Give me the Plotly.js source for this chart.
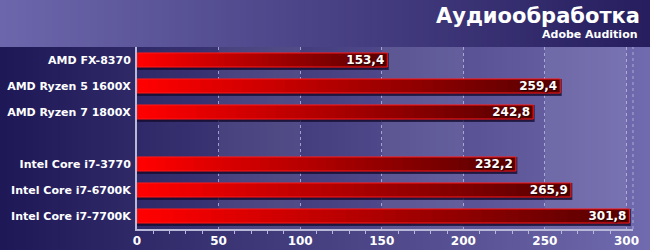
<!DOCTYPE html>
<html>
<head>
<meta charset="utf-8">
<script src="https://cdn.plot.ly/plotly-3.0.1.min.js"></script>
<style>html,body{margin:0;padding:0;background:#201a58;}#chart{width:650px;height:250px;}</style>
</head>
<body>
<div id="chart"></div>
<script>
// ---- data ----
const cpus = ["AMD FX-8370", "AMD Ryzen 5 1600X", "AMD Ryzen 7 1800X",
              "Intel Core i7-3770", "Intel Core i7-6700K", "Intel Core i7-7700K"];
const scores = [153.4, 259.4, 242.8, 232.2, 265.9, 301.8];
const groupBreakAfter = 3; // an empty slot between AMD and Intel groups
const chartTitle = "Аудиообработка";
const chartSubtitle = "Adobe Audition";
const tickStep = 50;
const axisMax = 304;

// ---- layout constants (styles) ----
const W = 650, H = 250;
const M = {l: 137, r: 17, t: 47, b: 21};
const plotW = W - M.l - M.r, plotH = H - M.t - M.b;
const FONT = "DejaVu Sans, Verdana, sans-serif";
const barW = 0.54;

const spacer = " ";
const slots = cpus.slice(0, groupBreakAfter).concat([spacer], cpus.slice(groupBreakAfter));

function px2x(px){ return (px - M.l) / plotW; }
function px2y(py){ return (H - M.b - py) / plotH; }
function mix(c1, c2, t){
  const r = Math.round(c1[0] + (c2[0]-c1[0])*t);
  const g = Math.round(c1[1] + (c2[1]-c1[1])*t);
  const b = Math.round(c1[2] + (c2[2]-c1[2])*t);
  return `rgb(${r},${g},${b})`;
}

const shapes = [];
// background gradient (whole figure)
const NS = 100;
for (let i = 0; i < NS; i++) {
  const x0 = W*i/NS, x1 = W*(i+1)/NS + 0.6;
  shapes.push({type:'rect', xref:'paper', yref:'paper', x0:px2x(x0), x1:px2x(x1),
    y0:px2y(H), y1:px2y(0), line:{width:0}, fillcolor: mix([30,24,86],[112,106,174], i/(NS-1)), layer:'below'});
}
// title band gradient (top)
for (let i = 0; i < NS; i++) {
  const x0 = W*i/NS, x1 = W*(i+1)/NS + 0.6;
  shapes.push({type:'rect', xref:'paper', yref:'paper', x0:px2x(x0), x1:px2x(x1),
    y0:px2y(M.t), y1:px2y(0), line:{width:0}, fillcolor: mix([108,102,172],[38,30,94], i/(NS-1)), layer:'below'});
}
// alternating lighter bands in plot area
for (let v = tickStep; v < axisMax; v += 2*tickStep) {
  shapes.push({type:'rect', xref:'x', yref:'paper', x0:v, x1:Math.min(v+tickStep, axisMax), y0:0, y1:1,
    line:{width:0}, fillcolor:'rgba(255,255,255,0.075)', layer:'below'});
}
// right edge dotted line
shapes.push({type:'line', xref:'paper', yref:'paper', x0:1, x1:1, y0:0, y1:1,
  line:{color:'rgba(200,200,235,0.7)', width:1, dash:'dot'}, layer:'below'});

const traces = [];
// shadow
traces.push({type:'bar', orientation:'h', y:cpus, x:scores, base:0,
  width:barW, offset:-barW/2 + 1.5/26,
  marker:{color:'rgba(22,12,48,0.75)', line:{color:'rgba(22,12,48,0.75)', width:3}},
  hoverinfo:'skip', showlegend:false});
// gradient segments
const NSEG = 40;
for (let i = 0; i < NSEG; i++) {
  const t = i / NSEG;
  traces.push({type:'bar', orientation:'h', y:cpus,
    base: scores.map(v => v*t), x: scores.map(v => v*(1-t)),
    width:barW, marker:{color: mix([255,0,0],[88,0,0], i/(NSEG-1)), line:{width:0}, opacity:1},
    hoverinfo:'skip', showlegend:false});
}
// outline + value label
traces.push({type:'bar', orientation:'h', y:cpus, x:scores, base:0, width:barW,
  marker:{color:'rgba(0,0,0,0)', line:{color:'#ff1a1a', width:1}},
  text: scores.map(v => v.toFixed(1).replace('.', ',')),
  textposition:'inside', insidetextanchor:'end', textangle:0, constraintext:'none',
  textfont:{family:FONT, size:12, color:'#ffffff', weight:'bold', shadow:'1px 1px 1px #200000'},
  hoverinfo:'skip', showlegend:false, cliponaxis:false});

function px2xContainer(px){ return px / W; }

const layout = {
  width:W, height:H, margin:M,
  paper_bgcolor:'#201a58', plot_bgcolor:'rgba(0,0,0,0)',
  barmode:'overlay', showlegend:false,
  title:{text:chartTitle, x:px2xContainer(640), xref:'container', xanchor:'right',
    y:1 - 16/H, yref:'container', yanchor:'middle',
    font:{family:FONT, size:21, color:'#ffffff', weight:'bold'}},
  annotations:[{text:chartSubtitle, xref:'paper', yref:'paper', x:px2x(640), y:px2y(34),
    xanchor:'right', yanchor:'middle', showarrow:false,
    font:{family:FONT, size:11, color:'#ffffff', weight:'bold'}}],
  xaxis:{range:[0, axisMax], dtick:tickStep, tick0:0, showgrid:true,
    gridcolor:'rgba(200,200,235,0.7)', griddash:'dot', gridwidth:1,
    zeroline:false, showline:true, linecolor:'#b8b8d8', linewidth:2,
    ticks:'', ticklabelstandoff:0,
    minor:{dtick:10, ticks:'outside', ticklen:3, tickcolor:'#b8b8d8', showgrid:false},
    tickfont:{family:FONT, size:12, color:'#ffffff', weight:'bold'}, fixedrange:true},
  yaxis:{type:'category', categoryorder:'array', categoryarray:slots,
    range:[slots.length-0.5, -0.5], showgrid:false, zeroline:false,
    showline:true, linecolor:'#b8b8d8', linewidth:2, ticks:'', ticklabelstandoff:2,
    tickfont:{family:FONT, size:11, color:'#ffffff', weight:'bold'}, fixedrange:true},
  shapes:shapes
};

Plotly.newPlot('chart', traces, layout, {staticPlot:true, displayModeBar:false});
</script>
</body>
</html>
